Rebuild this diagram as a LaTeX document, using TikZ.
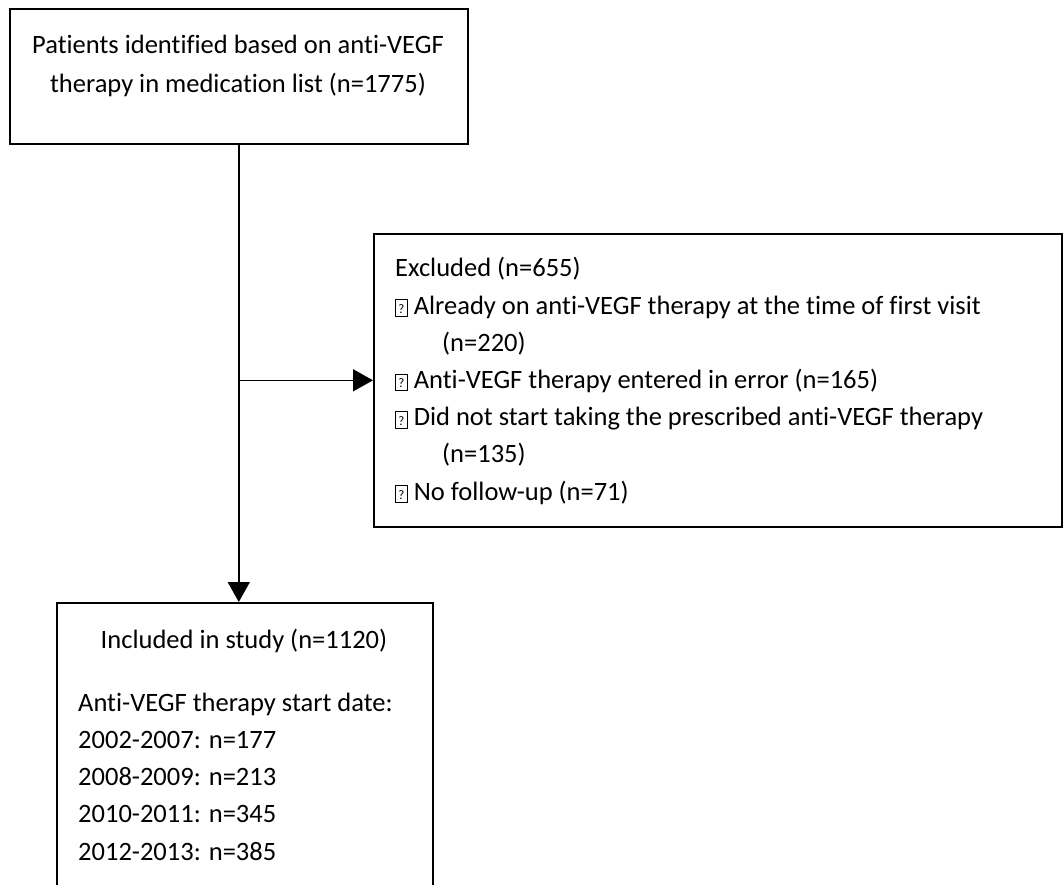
\documentclass[tikz,border=0pt]{standalone}
\usepackage{fontspec}
\setmainfont{Carlito}[Ligatures=NoCommon]
\usetikzlibrary{positioning}
\usetikzlibrary{arrows.meta}

\newcommand{\qbox}{{\fboxsep=0pt\fboxrule=0.8pt\raisebox{-2pt}{\fbox{\makebox[11pt]{\rule{0pt}{16pt}\raisebox{2.5pt}{\fontsize{13}{13}\selectfont ?}}}}}}

\begin{document}
\begin{tikzpicture}[x=1pt, y=-1pt,
    box/.style={draw, line width=1.6pt, anchor=north west, inner sep=0pt},
    flowarrow/.style={line width=1.6pt, -{Triangle[width=22pt,length=20pt]}},
    txt/.style={font=\fontsize{26.5}{37.2}\selectfont, inner sep=0pt}]
    \useasboundingbox (0,0) rectangle (1063,884);

    % boxes, text anchored at the baseline of its last line
    \node[box, minimum width=458pt, minimum height=135pt] (ident) at (9,8) {};
    \node[txt, align=center, anchor=base] (identtext) at (238,92)
        {Patients identified based on anti-VEGF\\[1pt]therapy in medication list (n=1775)};

    \node[box, minimum width=688pt, minimum height=293pt] (excl) at (373,233) {};
    \node[txt, align=left, anchor=base west] (excltext) at (395,500)
        {Excluded (n=655)\\
        \qbox\ Already on anti-VEGF therapy at the time of first visit\\
        \hspace*{47pt}(n=220)\\
        \qbox\ Anti-VEGF therapy entered in error (n=165)\\
        \qbox\ Did not start taking the prescribed anti-VEGF therapy\\
        \hspace*{47pt}(n=135)\\
        \qbox\ No follow-up (n=71)};

    \node[box, minimum width=376pt, minimum height=330pt] (incl) at (56,602) {};
    \node[txt, anchor=base] (incltext) at (244,648) {Included in study (n=1120)};
    \node[txt, align=left, anchor=base west] (datetext) at (78,860)
        {Anti-VEGF therapy start date:\\
        2002-2007: n=177\\
        2008-2009: n=213\\
        2010-2011: n=345\\
        2012-2013: n=385};

    \draw[flowarrow] (ident.south) -- (ident.south |- incl.north);
    \draw[flowarrow] (ident.south |- excl.west) -- (excl.west);
\end{tikzpicture}
\end{document}
